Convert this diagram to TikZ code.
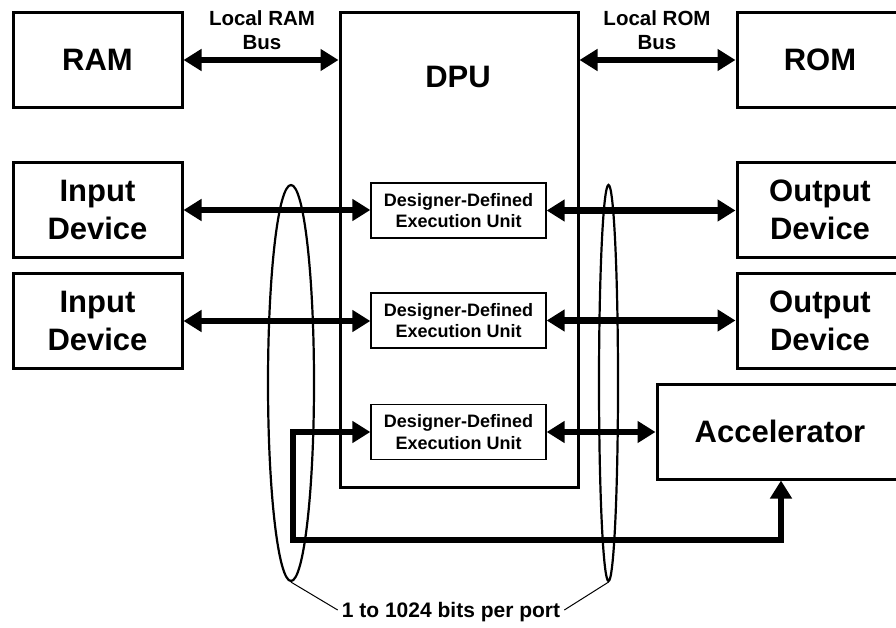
\documentclass[tikz,border=0pt]{standalone}
\usepackage{fontspec}
\setmainfont{Liberation Sans}
\usetikzlibrary{arrows.meta,shapes.geometric}
\begin{document}
\begin{tikzpicture}[x=1pt,y=-1pt,
  box/.style={draw,line width=3pt,inner sep=0pt,align=center,
    font=\fontsize{31}{38}\selectfont\bfseries},
  unit/.style={draw,line width=1.3pt,inner sep=0pt,align=center,
    minimum width=175pt,minimum height=55pt,
    font=\fontsize{18}{21.5}\selectfont\bfseries},
  buslabel/.style={align=center,inner sep=0pt,
    font=\fontsize{20.5}{24}\selectfont\bfseries},
  bus/.style={line width=6.5pt,line join=miter,
    {Triangle[length=18pt,width=21pt]}-{Triangle[length=18pt,width=21pt]}},
  bundle/.style={draw,ellipse,line width=2.2pt,inner sep=0pt},
  leader/.style={line width=1pt}]
\useasboundingbox (0,0) rectangle (896,628);

% memories and the processor
\node[box,minimum width=169pt,minimum height=94.5pt] (ram) at (97.5,60) {RAM};
\node[box,minimum width=238pt,minimum height=474.5pt] (dpu) at (459,249.75) {};
\node[font=\fontsize{31}{38}\selectfont\bfseries,inner sep=0pt] (dputext) at (458,77) {DPU};
\node[box,minimum width=166pt,minimum height=94.5pt] (rom) at (820,60) {ROM};

% devices
\node[box,minimum width=169pt,minimum height=94.5pt] (in1) at (97.5,210) {Input\\Device};
\node[box,minimum width=169pt,minimum height=94.5pt] (in2) at (97.5,321) {Input\\Device};
\node[box,minimum width=166pt,minimum height=94.5pt] (out1) at (820,210) {Output\\Device};
\node[box,minimum width=166pt,minimum height=94.5pt] (out2) at (820,321) {Output\\Device};
\node[box,minimum width=246pt,minimum height=95pt] (acc) at (780,431.5) {Accelerator};

% execution units inside the DPU
\node[unit] (eu1) at (458.5,210.5) {Designer-Defined\\Execution Unit};
\node[unit] (eu2) at (458.5,320.5) {Designer-Defined\\Execution Unit};
\node[unit] (eu3) at (458.5,432) {Designer-Defined\\Execution Unit};

% local buses
\node[buslabel] (rambus) at (262,30) {Local RAM\\Bus};
\node[buslabel] (rombus) at (657,30) {Local ROM\\Bus};
\draw[bus] (ram.east) -- (ram.east -| dpu.west);
\draw[bus] (rom.west -| dpu.east) -- (rom.west);

% port connections
\draw[bus] (in1.east) -- (in1.east -| eu1.west);
\draw[bus] (in2.east) -- (in2.east -| eu2.west);
\draw[bus] (eu1.east) -- (eu1.east -| out1.west);
\draw[bus] (eu2.east) -- (eu2.east -| out2.west);
\draw[bus] (eu3.east) -- (eu3.east -| acc.west);

% return path from the accelerator
\coordinate (fb1) at (293,432);
\coordinate (fb2) at (293,540);
\coordinate (fb3) at (781,540);
\draw[bus] (eu3.west) -- (fb1) -- (fb2) -- (fb3) -- (fb3 |- acc.south);

% port width bundles
\node[bundle,minimum width=46pt,minimum height=396pt] (bundleL) at (291,383) {};
\node[bundle,minimum width=19pt,minimum height=396pt] (bundleR) at (608.5,383) {};
\node[font=\fontsize{21}{24}\selectfont\bfseries,inner sep=4pt] (bits) at (451,612) {1 to 1024 bits per port};
\draw[leader] (bundleL.south) -- ([yshift=2pt]bits.west);
\draw[leader] (bundleR.south) -- ([yshift=2pt]bits.east);
\end{tikzpicture}
\end{document}
